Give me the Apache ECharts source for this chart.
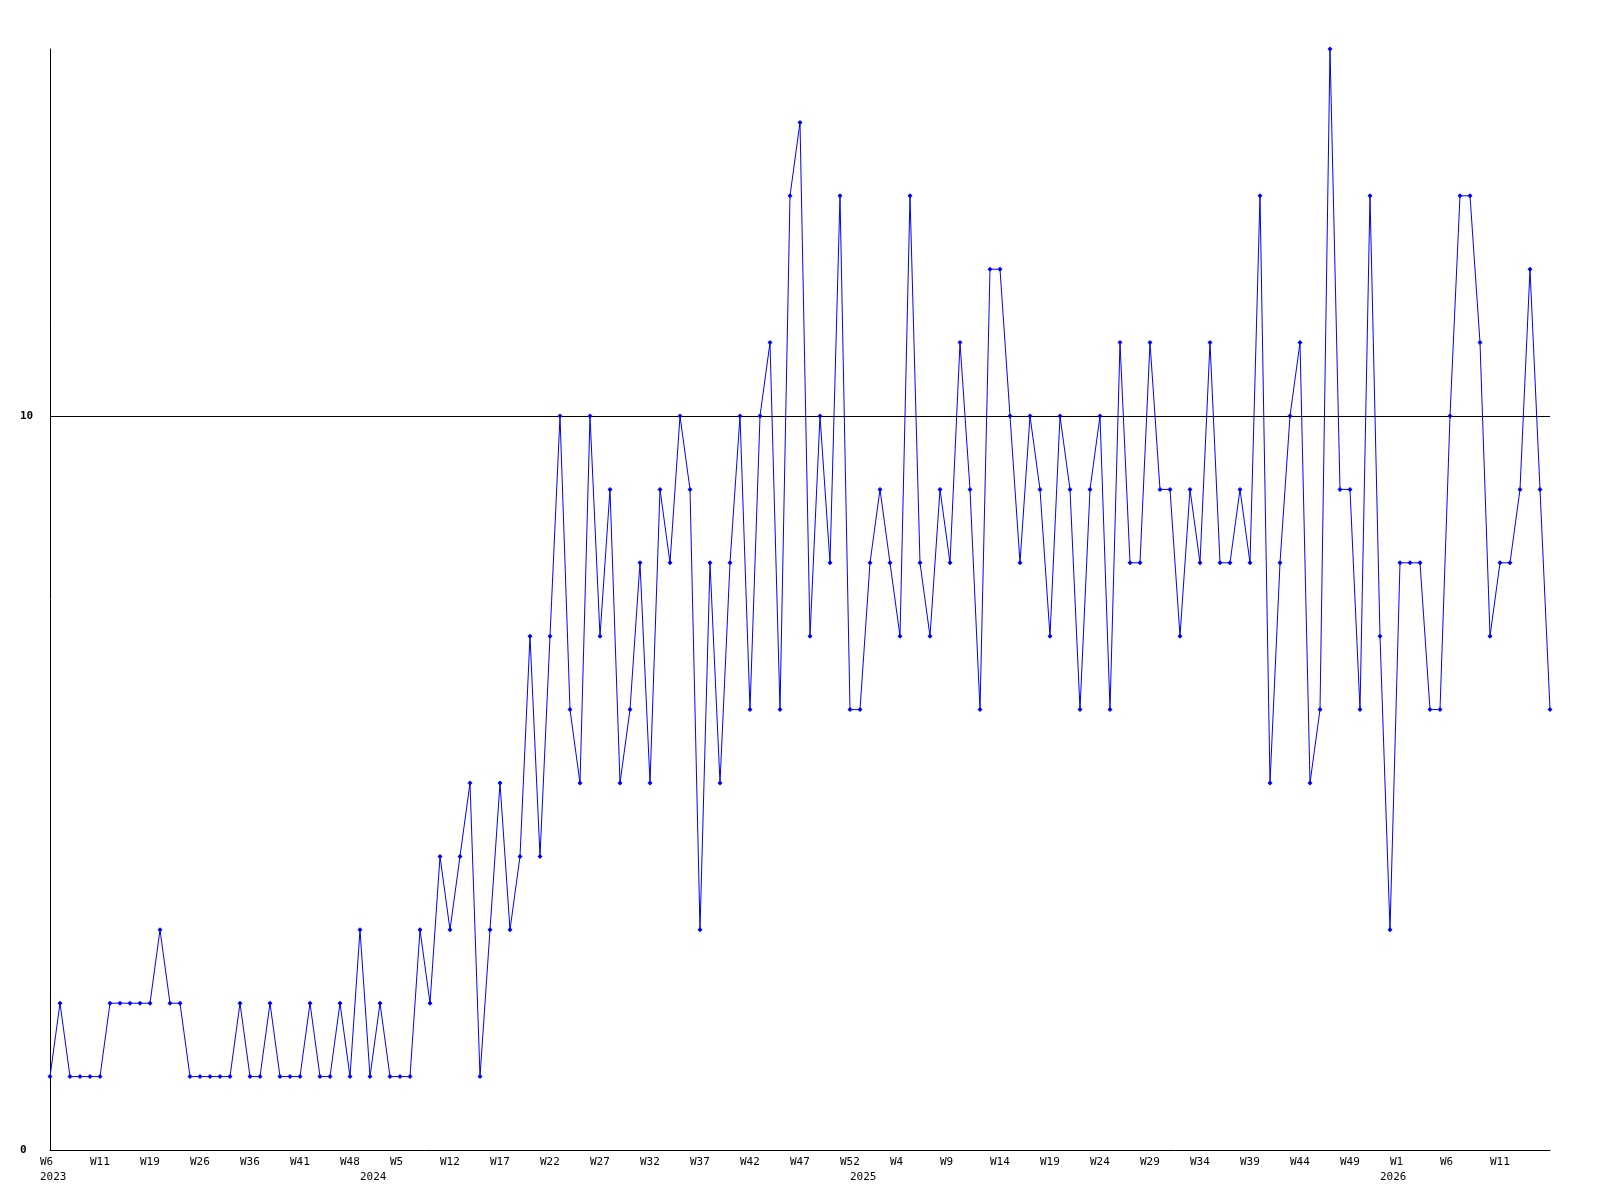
<!DOCTYPE html>
<html>
<head>
<meta charset="utf-8">
<script src="https://cdn.jsdelivr.net/npm/echarts@6/dist/echarts.min.js"></script>
<style>
  html, body { margin: 0; padding: 0; background: #fff; }
  #chart { width: 1600px; height: 1200px; }
</style>
</head>
<body>
<div id="chart"></div>
<script>
// weekly counts, one per point (151 weeks, 2023 W6 .. 2026)
var values = [
  1, 2, 1, 1, 1, 1, 2, 2, 2, 2,
  2, 3, 2, 2, 1, 1, 1, 1, 1, 2,
  1, 1, 2, 1, 1, 1, 2, 1, 1, 2,
  1, 3, 1, 2, 1, 1, 1, 3, 2, 4,
  3, 4, 5, 1, 3, 5, 3, 4, 7, 4,
  7, 10, 6, 5, 10, 7, 9, 5, 6, 8,
  5, 9, 8, 10, 9, 3, 8, 5, 8, 10,
  6, 10, 11, 6, 13, 14, 7, 10, 8, 13,
  6, 6, 8, 9, 8, 7, 13, 8, 7, 9,
  8, 11, 9, 6, 12, 12, 10, 8, 10, 9,
  7, 10, 9, 6, 9, 10, 6, 11, 8, 8,
  11, 9, 9, 7, 9, 8, 11, 8, 8, 9,
  8, 13, 5, 8, 10, 11, 5, 6, 15, 9,
  9, 6, 13, 7, 3, 8, 8, 8, 6, 6,
  10, 13, 13, 11, 7, 8, 8, 9, 12, 9,
  6
];

// week label shown on every 5th point
var weekTicks = ['W6', 'W11', 'W19', 'W26', 'W36', 'W41', 'W48', 'W5', 'W12', 'W17',
                 'W22', 'W27', 'W32', 'W37', 'W42', 'W47', 'W52', 'W4', 'W9', 'W14',
                 'W19', 'W24', 'W29', 'W34', 'W39', 'W44', 'W49', 'W1', 'W6', 'W11'];
var weekStep = 5;

// year label under the first point of each year
var yearIndex = [0, 32, 81, 134];
var yearLabels = ['2023', '2024', '2025', '2026'];

var categories = values.map(function (v, i) { return String(i); });

function labelFor(i) {
    var wk = (i % weekStep === 0) ? weekTicks[i / weekStep] : '';
    var yi = yearIndex.indexOf(i);
    if (yi >= 0) return wk + '\n' + yearLabels[yi];
    return wk;
}

var myChart = echarts.init(document.getElementById('chart'));
var option = {
    backgroundColor: '#ffffff',
    animation: false,
    grid: { left: 50, right: 50, top: 49, bottom: 50, containLabel: false },
    xAxis: {
        type: 'category',
        data: categories,
        boundaryGap: false,
        axisLine: { show: true, lineStyle: { color: '#000', width: 1 } },
        axisTick: { show: false },
        splitLine: { show: false },
        axisLabel: {
            interval: function (i) { return i % weekStep === 0 || yearIndex.indexOf(i) >= 0; },
            formatter: function (v, i) { return labelFor(i); },
            align: 'left',
            padding: [0, 0, 0, -10],
            margin: 5,
            lineHeight: 15,
            fontFamily: 'DejaVu Sans Mono',
            fontSize: 11,
            color: '#000'
        }
    },
    yAxis: {
        type: 'value',
        min: 0,
        max: 15,
        interval: 10,
        axisLine: { show: true, lineStyle: { color: '#000', width: 1 } },
        axisTick: { show: false },
        splitLine: {
            show: true,
            showMinLine: false,
            showMaxLine: false,
            lineStyle: { color: '#000', width: 1 }
        },
        axisLabel: {
            showMaxLabel: false,
            align: 'left',
            margin: 30,
            fontFamily: 'DejaVu Sans Mono',
            fontWeight: 'bold',
            fontSize: 11,
            color: '#000'
        }
    },
    series: [{
        type: 'line',
        data: values,
        symbol: 'diamond',
        symbolSize: 5,
        showSymbol: true,
        showAllSymbol: true,
        lineStyle: { color: '#0000ff', width: 1 },
        itemStyle: { color: '#0000ff' }
    }]
};
myChart.setOption(option);
</script>
</body>
</html>
